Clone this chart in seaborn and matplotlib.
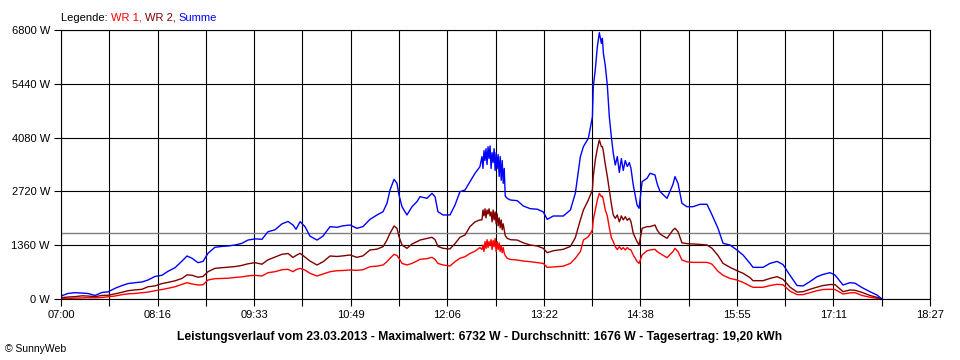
import matplotlib
matplotlib.use("Agg")
import matplotlib.pyplot as plt
import numpy as np
import pandas as pd
import seaborn as sns

# time of day in minutes after midnight
times = [
    420.0, 425.5, 431.1, 436.6, 441.3, 446.9, 452.4, 457.2, 462.7, 468.2,
    473.0, 478.5, 484.0, 488.8, 494.3, 499.8, 504.6, 510.1, 515.7, 519.6,
    523.6, 528.3, 532.3, 536.2, 541.7, 547.3, 552.0, 557.6, 563.1, 567.8,
    573.4, 578.9, 583.6, 589.2, 594.7, 599.5, 603.4, 605.8, 609.0, 612.9,
    616.8, 622.4, 627.1, 632.7, 638.2, 642.9, 648.5, 654.0, 658.7, 664.3,
    669.8, 674.6, 677.7, 680.1, 683.3, 685.6, 687.2, 689.6, 693.5, 697.5,
    701.4, 703.8, 709.3, 713.3, 715.7, 718.0, 722.0, 727.5, 731.5, 735.4,
    739.4, 743.3, 747.3, 751.2, 752.8, 753.6, 754.4, 755.2, 756.0, 756.8,
    757.6, 758.4, 759.2, 760.0, 760.8, 761.6, 762.4, 763.2, 764.0, 764.8,
    765.6, 766.4, 767.2, 768.0, 768.8, 769.6, 770.4, 771.2, 772.8, 775.2,
    780.7, 785.5, 791.0, 796.5, 801.3, 804.4, 809.2, 817.1, 822.7, 826.6,
    830.6, 833.0, 836.9, 840.1, 840.8, 842.4, 844.0, 845.6, 847.2, 848.0,
    848.8, 850.3, 851.9, 853.5, 855.1, 856.6, 858.2, 859.8, 861.4, 863.0,
    864.5, 866.1, 867.7, 869.3, 870.6, 872.4, 875.4, 877.0, 879.4, 883.3,
    885.7, 889.6, 891.2, 893.6, 899.1, 903.8, 905.4, 907.8, 910.9, 914.9,
    919.6, 925.2, 930.7, 934.7, 939.4, 943.4, 948.9, 954.4, 959.2, 964.7,
    967.1, 975.0, 980.5, 986.1, 990.8, 996.3, 1001.9, 1006.6, 1012.1, 1017.7,
    1022.4, 1027.9, 1031.9, 1038.2, 1043.7, 1047.7, 1053.2, 1059.5, 1065.1, 1069.0,
]

summe = [
    75, 140, 160, 150, 140, 90, 165, 180, 270, 340,
    390, 412, 430, 480, 570, 600, 700, 790, 960, 1087,
    1030, 918, 950, 1155, 1307, 1330, 1340, 1365, 1408, 1490,
    1520, 1509, 1700, 1750, 1900, 1960, 1870, 1762, 1955, 1830,
    1590, 1490, 1590, 1830, 1812, 1850, 1870, 1787, 1830, 2013,
    2124, 2207, 2418, 2755, 3025, 2924, 2629, 2333, 2124, 2333,
    2460, 2586, 2545, 2671, 2586, 2207, 2124, 2124, 2376, 2713,
    2755, 2966, 3178, 3345, 3600, 3300, 3750, 3500, 3800, 3400,
    3850, 3550, 3870, 3300, 3700, 3450, 3800, 3250, 3700, 3300,
    3650, 3100, 3600, 3000, 3500, 2924, 3300, 2600, 2545, 2503,
    2486, 2351, 2283, 2270, 2200, 2013, 2098, 2098, 2250, 2671,
    3600, 3852, 4063, 4600, 5367, 5800, 6378, 6732, 6462, 6590,
    6211, 5900, 5400, 4600, 4103, 3684, 3388, 3600, 3200, 3550,
    3250, 3500, 3350, 3450, 3300, 2882, 2376, 2293, 2966, 3051,
    3178, 3135, 2924, 2713, 2545, 2900, 3093, 2924, 2418, 2333,
    2333, 2394, 2394, 2124, 1787, 1408, 1365, 1239, 1112, 900,
    800, 800, 900, 950, 870, 600, 340, 330, 440, 565,
    620, 665, 607, 354, 412, 400, 290, 185, 101, 0,
]

wr2 = [
    33, 50, 60, 80, 75, 60, 90, 95, 130, 170,
    210, 230, 245, 310, 330, 390, 420, 460, 520, 610,
    600, 550, 570, 690, 775, 790, 800, 820, 850, 890,
    918, 880, 990, 1060, 1130, 1150, 1050, 1100, 1155, 1060,
    960, 860, 940, 1087, 1075, 1090, 1112, 1053, 1090, 1239,
    1260, 1323, 1490, 1660, 1846, 1787, 1576, 1365, 1281, 1391,
    1450, 1490, 1530, 1560, 1500, 1330, 1281, 1264, 1400, 1560,
    1618, 1830, 1950, 2000, 2000, 2250, 2100, 2280, 2050, 2250,
    2150, 2280, 2100, 2200, 1950, 2250, 2000, 2200, 1900, 2150,
    1850, 2050, 1800, 2000, 1750, 1900, 1745, 1600, 1534, 1500,
    1490, 1420, 1365, 1340, 1280, 1171, 1220, 1256, 1330, 1550,
    2000, 2250, 2503, 2755, 3100, 3515, 3800, 4020, 3852, 3852,
    3726, 3400, 3100, 2755, 2400, 2124, 2039, 2124, 1950, 2100,
    2000, 2080, 1990, 2040, 1955, 1660, 1450, 1365, 1787, 1830,
    1830, 1870, 1750, 1640, 1534, 1745, 1787, 1700, 1420, 1400,
    1391, 1380, 1365, 1281, 1100, 900, 800, 716, 650, 540,
    463, 463, 520, 565, 497, 300, 175, 185, 245, 300,
    340, 365, 365, 185, 227, 220, 168, 90, 42, 0,
]

wr1 = [
    8, 15, 20, 30, 33, 30, 40, 55, 75, 110,
    130, 140, 160, 175, 210, 240, 270, 310, 370, 412,
    380, 354, 360, 480, 514, 520, 525, 545, 560, 585,
    598, 581, 665, 690, 740, 750, 690, 740, 775, 730,
    650, 581, 630, 690, 716, 720, 733, 725, 740, 817,
    830, 860, 943, 1028, 1129, 1100, 1028, 900, 860, 900,
    960, 1003, 1020, 1053, 1000, 900, 860, 834, 943, 1030,
    1070, 1150, 1210, 1300, 1250, 1365, 1200, 1450, 1280, 1500,
    1300, 1450, 1350, 1500, 1250, 1480, 1320, 1530, 1200, 1450,
    1250, 1420, 1200, 1350, 1170, 1300, 1160, 1100, 1028, 1000,
    985, 960, 943, 920, 900, 800, 810, 830, 900, 1028,
    1197, 1490, 1576, 1745, 2000, 2250, 2500, 2671, 2586, 2600,
    2500, 2250, 2100, 1800, 1550, 1450, 1323, 1250, 1323, 1250,
    1300, 1240, 1300, 1250, 1239, 1112, 950, 900, 1112, 1220,
    1239, 1256, 1200, 1150, 1045, 1200, 1281, 1197, 985, 940,
    926, 926, 926, 880, 700, 600, 520, 480, 420, 330,
    296, 296, 340, 371, 360, 200, 110, 110, 160, 210,
    240, 245, 240, 126, 155, 160, 90, 45, 17, 0,
]

y_ticks = [0, 1360, 2720, 4080, 5440, 6800]
x_tick_labels = ["07:00", "08:16", "09:33", "10:49", "12:06",
                 "13:22", "14:38", "15:55", "17:11", "18:27"]
day_start, day_end = 420, 1107
average = 1676

series_colors = {"WR 1": "#ff0000", "WR 2": "#800000", "Summe": "#0000ff"}
title_text = ("Leistungsverlauf vom 23.03.2013 - Maximalwert: 6732 W - "
              "Durchschnitt: 1676 W - Tagesertrag: 19,20 kWh")


def colored_line(fig, x, y, parts, **kw):
    # draw text pieces one after another, each in its own colour
    renderer = fig.canvas.get_renderer()
    for txt, col in parts:
        t = fig.text(x, y, txt, color=col, transform=None, **kw)
        x = t.get_window_extent(renderer).x1


def main():
    sns.set_theme(style="white")
    plt.rcParams["font.family"] = ["Liberation Sans", "DejaVu Sans"]

    df = pd.DataFrame({"time": times, "WR 1": wr1, "WR 2": wr2, "Summe": summe})
    long = df.melt(id_vars="time", var_name="Serie", value_name="Leistung")

    fig = plt.figure(figsize=(9.6, 3.6), dpi=100)
    ax = fig.add_axes([61 / 960, 61 / 360, 869 / 960, 269 / 360])

    sns.lineplot(data=long, x="time", y="Leistung", hue="Serie",
                 hue_order=["WR 1", "WR 2", "Summe"], palette=series_colors,
                 linewidth=1.0, legend=False, ax=ax, estimator=None, sort=False)

    ax.axhline(average, color="#808080", lw=1.0, zorder=1)

    ax.set_xlim(day_start, day_end)
    ax.set_ylim(0, 6800)
    xt = np.linspace(day_start, day_end, 19)
    ax.set_xticks(xt)
    ax.set_xticklabels([x_tick_labels[i // 2] if i % 2 == 0 else "" for i in range(19)])
    ax.set_yticks(y_ticks)
    ax.set_yticklabels([f"{v} W" for v in y_ticks])
    ax.tick_params(axis="both", direction="out", length=5, width=0.8,
                   color="black", labelsize=8, labelcolor="black", pad=3,
                   bottom=True, left=True)
    ax.grid(True, color="black", lw=0.8)
    ax.set_axisbelow(True)
    for s in ax.spines.values():
        s.set_color("black")
        s.set_linewidth(0.8)
    ax.set_xlabel("")
    ax.set_ylabel("")

    fig.canvas.draw()
    colored_line(fig, 61, 360 - 21, [("Legende: ", "black"), ("WR 1, ", "#ff0000"),
                                     ("WR 2, ", "#800000"), ("Summe", "#0000ff")],
                 fontsize=8)

    fig.text(480 / 960, 1 - 337 / 360, title_text, ha="center", va="center",
             fontsize=8.7, fontweight="bold", color="black")
    fig.text(5 / 960, 1 - 349 / 360, "\u00a9 SunnyWeb", ha="left", va="center",
             fontsize=7.5, color="black")

    fig.savefig("out.png", dpi=100, facecolor="white")
    plt.close(fig)


if __name__ == "__main__":
    main()
